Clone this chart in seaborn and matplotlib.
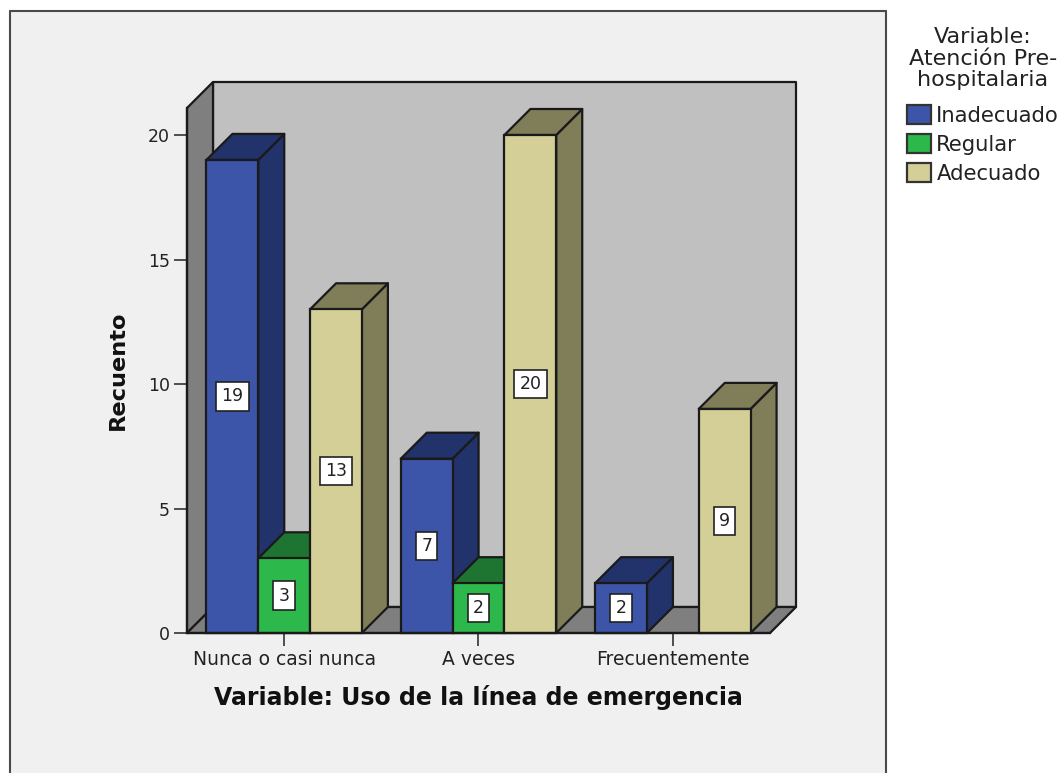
import matplotlib
matplotlib.use("Agg")
import matplotlib.pyplot as plt
from matplotlib.patches import Patch, Polygon, Rectangle
from matplotlib.lines import Line2D
import pandas as pd
import seaborn as sns

# Counts per category and level
categories = ["Nunca o casi nunca", "A veces", "Frecuentemente"]
levels = ["Inadecuado", "Regular", "Adecuado"]
inadecuado = [19, 7, 2]
regular = [3, 2, 0]
adecuado = [13, 20, 9]

front_colors = ["#3C55A8", "#2DB84B", "#D3CF97"]
shade_colors = {"#3C55A8": "#22326A", "#2DB84B": "#1E7431", "#D3CF97": "#807D59"}
edge = "#1A1A1A"

W, H = 1062, 773
sns.set_theme(style="white", rc={"font.family": "DejaVu Sans"})
fig = plt.figure(figsize=(W / 100, H / 100), dpi=100, facecolor="white")

# Panel behind the chart, open at the bottom
px = lambda x, y: (x / W, 1 - y / H)
fig.add_artist(Rectangle(px(10, 800), 876 / W, 789 / H, transform=fig.transFigure,
                         fc="#F0F0F0", ec="none", zorder=-5))
for a, b in [((10, 11), (886, 11)), ((10, 11), (10, 773)), ((886, 11), (886, 773))]:
    fig.add_artist(Line2D(*zip(px(*a), px(*b)), transform=fig.transFigure,
                          color="#4A4A4A", lw=1.5, zorder=-4))

ax = fig.add_axes([187 / W, 1 - 633 / H, 583 / W, 525 / H])
ax.patch.set_alpha(0)

df = pd.DataFrame({
    "categoria": categories * 3,
    "nivel": [lv for lv in levels for _ in categories],
    "recuento": inadecuado + regular + adecuado,
})
sns.barplot(data=df, x="categoria", y="recuento", hue="nivel", order=categories,
            hue_order=levels, palette=front_colors, saturation=1, width=0.8, gap=0,
            edgecolor=edge, linewidth=1.6, errorbar=None, legend=False, ax=ax)

x_scale = 583 / 3
y_scale = 24.9
ax.set_xlim(-0.5, 2.5)
ax.set_ylim(0, 525 / y_scale)
dx, dy = 26 / x_scale, 26 / y_scale
x0, x1 = ax.get_xlim()
top = ax.get_ylim()[1]

# Extrude each bar, painting from left to right so nearer faces overlap
bars = sorted(ax.patches[:], key=lambda p: p.get_x())

# Room box: back wall, left wall and floor
room = dict(ec=edge, lw=1.6, clip_on=False, joinstyle="round")
ax.add_patch(Polygon([(x0 + dx, dy), (x1 + dx, dy), (x1 + dx, top + dy), (x0 + dx, top + dy)],
                     fc="#C0C0C0", zorder=0.5, **room))
ax.add_patch(Polygon([(x0, 0), (x0 + dx, dy), (x0 + dx, top + dy), (x0, top)],
                     fc="#7F7F7F", zorder=0.6, **room))
ax.add_patch(Polygon([(x0, 0), (x1, 0), (x1 + dx, dy), (x0 + dx, dy)],
                     fc="#7F7F7F", zorder=0.6, **room))

for i, bar in enumerate(bars):
    h = bar.get_height()
    if h == 0:
        bar.set_visible(False)
        continue
    left, right = bar.get_x(), bar.get_x() + bar.get_width()
    z = 2 + i * 0.1
    shade = shade_colors[matplotlib.colors.to_hex(bar.get_facecolor()).upper()]
    face = dict(fc=shade, ec=edge, lw=1.6, clip_on=False, zorder=z, joinstyle="round")
    ax.add_patch(Polygon([(right, 0), (right + dx, dy), (right + dx, h + dy), (right, h)], **face))
    ax.add_patch(Polygon([(left, h), (right, h), (right + dx, h + dy), (left + dx, h + dy)], **face))
    bar.set_zorder(z + 0.01)
    bar.set_clip_on(False)
    ax.text((left + right) / 2, h / 2, f"{int(h)}", ha="center", va="center",
            fontsize=12.5, color="#222222", zorder=10,
            bbox=dict(boxstyle="square,pad=0.3", fc="white", ec="#222222", lw=1.2))

# Axes, ticks and titles
sns.despine(ax=ax, top=True, right=True)
for s in ("left", "bottom"):
    ax.spines[s].set_color(edge)
    ax.spines[s].set_linewidth(1.6)
    ax.spines[s].set_zorder(5)
ax.set_yticks([0, 5, 10, 15, 20])
ax.tick_params(axis="both", which="major", left=True, bottom=True, length=9.4, width=1.2,
               color="#333333", labelcolor="#222222", pad=3)
ax.tick_params(axis="x", labelsize=13.5)
ax.tick_params(axis="y", labelsize=12.5)
ax.set_xlabel("Variable: Uso de la línea de emergencia", fontsize=17, fontweight="bold",
              color="#111111", labelpad=11)
ax.set_ylabel("Recuento", fontsize=16.2, fontweight="bold", color="#111111", labelpad=14)

# Legend placed in the right margin
handles = [Patch(fc=c, ec="#333333", lw=1.6) for c in front_colors]
leg = ax.legend(handles, levels, title="Variable:\nAtención Pre-\nhospitalaria",
                loc="upper left", bbox_to_anchor=px(907, 27), bbox_transform=fig.transFigure,
                frameon=False, fontsize=15.2, title_fontsize=16, borderpad=0, borderaxespad=0,
                handlelength=1.15, handleheight=1.0, handletextpad=0.24, labelspacing=0.38)
leg._legend_box.sep = 11
leg.get_title().set_multialignment("center")
leg.get_title().set_color("#222222")
leg.get_title().set_linespacing(1.1)
for t in leg.get_texts():
    t.set_color("#222222")

fig.savefig("out.png", dpi=100)
